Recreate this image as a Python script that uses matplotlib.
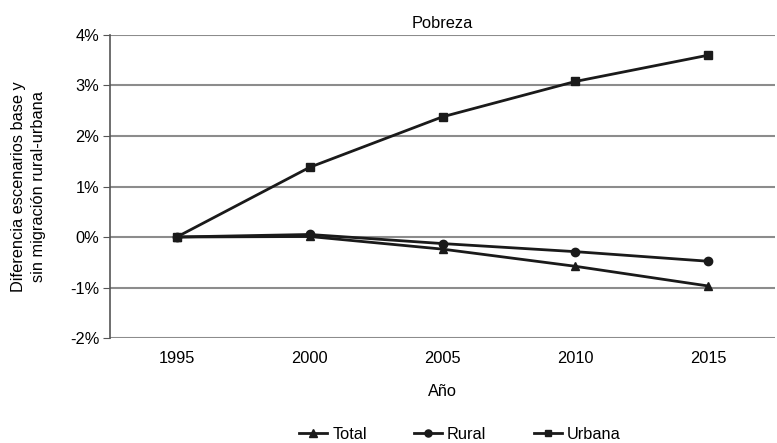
import matplotlib.pyplot as plt
import numpy as np
from matplotlib.ticker import FuncFormatter

years = ['1995', '2000', '2005', '2010', '2015']
total = [0.0, 0.01, -0.24, -0.58, -0.97]
rural = [0.0, 0.05, -0.13, -0.29, -0.48]
urbana = [0.0, 1.38, 2.38, 3.08, 3.60]

plt.rcParams['font.family'] = ['Liberation Sans', 'DejaVu Sans']
fs = 11.8

fig, ax = plt.subplots(figsize=(7.77, 4.43), dpi=100)
fig.subplots_adjust(left=0.142, right=0.997, top=0.921, bottom=0.237)

x = np.arange(len(years))
lc = '#1a1a1a'
ax.plot(x, total, color=lc, lw=2, marker='^', ms=6, label='Total', zorder=3)
ax.plot(x, rural, color=lc, lw=2, marker='o', ms=6, label='Rural', zorder=3)
ax.plot(x, urbana, color=lc, lw=2, marker='s', ms=5.5, label='Urbana', zorder=3)

ax.set_xlim(-0.5, len(years) - 0.5)
ax.set_ylim(-2, 4)
ax.set_xticks(x)
ax.set_xticklabels(years)
ax.set_yticks(np.arange(-2, 5, 1))
ax.yaxis.set_major_formatter(FuncFormatter(lambda v, p: f'{v:.0f}%'))
ax.yaxis.grid(True, color='#8c8c8c', lw=1.5)
ax.set_axisbelow(True)

for s in ['top', 'right', 'bottom']:
    ax.spines[s].set_visible(False)
ax.spines['left'].set_color('#555555')
ax.spines['left'].set_linewidth(1.2)
ax.tick_params(axis='y', length=5, color='#555555', labelsize=fs, pad=3)
ax.tick_params(axis='x', length=0, labelsize=fs, pad=9)

ax.set_title('Pobreza', fontsize=fs, pad=5)
ax.set_xlabel('Año', fontsize=fs, labelpad=13)
ax.set_ylabel('Diferencia escenarios base y\nsin migración rural-urbana', fontsize=fs,
              labelpad=17, linespacing=1.45)

fig.legend(loc='lower center', bbox_to_anchor=(0.592, -0.03), ncol=3, frameon=False,
           fontsize=fs, handlelength=1.7, handletextpad=0.3, columnspacing=2.9,
           markerscale=0.85)

fig.savefig('out.png', dpi=100)
